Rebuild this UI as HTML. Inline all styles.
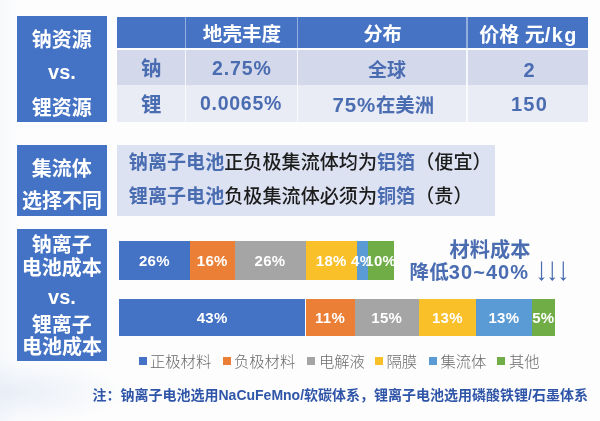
<!DOCTYPE html>
<html lang="zh-CN">
<head>
<meta charset="utf-8">
<title>钠资源 vs. 锂资源</title>
<style>
html,body{margin:0;padding:0;}
body{width:600px;height:421px;overflow:hidden;position:relative;background:#fdfdfd;
  font-family:"Liberation Sans","Noto Sans CJK SC",sans-serif;}
#bg{position:absolute;left:0;top:0;width:600px;height:421px;
  background:
    radial-gradient(ellipse 120px 34px at 8px 392px, rgba(228,235,246,0.8), rgba(228,235,246,0) 100%),
    linear-gradient(90deg, rgba(243,246,250,0.7) 0px, rgba(253,253,253,0) 18px);
}
#wrap{position:absolute;left:0;top:0;width:600px;height:421px;filter:blur(0.5px);}
.abs{position:absolute;}
.box{position:absolute;background:#4472c4;}
.t{position:absolute;white-space:nowrap;text-align:center;transform:translate(-50%,-50%);line-height:1;}
.w{color:#fff;font-weight:700;}
.b{color:#4a6cb1;font-weight:700;}
.lat{font-family:"Liberation Sans",sans-serif;}
.seg{position:absolute;top:0;height:100%;}
.pct{position:absolute;left:50%;top:50%;color:#fff;font-weight:700;font-size:15px;letter-spacing:0.3px;white-space:nowrap;transform:translate(-50%,-50%);line-height:1;}
.lg{position:absolute;width:8px;height:8px;top:357px;}
.lt{position:absolute;top:361.8px;transform:translateY(-50%);font-size:15.3px;color:#6a6a6a;white-space:nowrap;line-height:1;font-weight:300;}
</style>
</head>
<body>
<div id="bg"></div>
<div id="wrap">

<!-- left blue boxes -->
<div class="box" style="left:17px;top:16px;width:90px;height:105.7px;"></div>
<div class="box" style="left:17px;top:144.5px;width:90px;height:71.5px;"></div>
<div class="box" style="left:17px;top:229.3px;width:90px;height:131.7px;"></div>

<div class="t w" style="left:61.8px;top:39.5px;font-size:20px;">钠资源</div>
<div class="t w lat" style="left:62px;top:72px;font-size:20px;">vs.</div>
<div class="t w" style="left:61.8px;top:107.5px;font-size:20px;">锂资源</div>

<div class="t w" style="left:61.8px;top:168.5px;font-size:20px;">集流体</div>
<div class="t w" style="left:62px;top:201px;font-size:20px;">选择不同</div>

<div class="t w" style="left:61.8px;top:245px;font-size:20px;">钠离子</div>
<div class="t w" style="left:61.8px;top:268px;font-size:20px;">电池成本</div>
<div class="t w lat" style="left:62px;top:297px;font-size:20px;">vs.</div>
<div class="t w" style="left:61.8px;top:324.5px;font-size:20px;">锂离子</div>
<div class="t w" style="left:62px;top:347px;font-size:20px;">电池成本</div>

<!-- table -->
<div class="abs" style="left:117.3px;top:16.8px;width:471px;height:31px;background:#4673c3;"></div>
<div class="abs" style="left:117.3px;top:50px;width:471px;height:34.6px;background:#d3d8eb;"></div>
<div class="abs" style="left:117.3px;top:85.2px;width:471px;height:36.6px;background:#eaecf5;"></div>
<div class="abs" style="left:185.3px;top:16.8px;width:1.2px;height:31px;background:rgba(255,255,255,0.42);"></div>
<div class="abs" style="left:297.3px;top:16.8px;width:1.2px;height:31px;background:rgba(255,255,255,0.42);"></div>
<div class="abs" style="left:466.4px;top:16.8px;width:1.2px;height:31px;background:rgba(255,255,255,0.42);"></div>
<div class="abs" style="left:185.3px;top:50px;width:1.2px;height:71.8px;background:rgba(255,255,255,0.8);"></div>
<div class="abs" style="left:297.3px;top:50px;width:1.2px;height:71.8px;background:rgba(255,255,255,0.8);"></div>
<div class="abs" style="left:466.4px;top:50px;width:1.2px;height:71.8px;background:rgba(255,255,255,0.8);"></div>

<div class="t w" style="left:242px;top:35px;font-size:19.6px;">地壳丰度</div>
<div class="t w" style="left:382.6px;top:34.5px;font-size:19.2px;">分布</div>
<div class="t w" style="left:528.5px;top:35.2px;font-size:20px;">价格 元<span style="font-size:19.8px;letter-spacing:1.5px;">/kg</span></div>

<div class="t b" style="left:151.3px;top:69px;font-size:20.5px;">钠</div>
<div class="t b" style="left:241.8px;top:69px;font-size:19.5px;letter-spacing:0.9px;">2.75%</div>
<div class="t b" style="left:387px;top:69.5px;font-size:19px;">全球</div>
<div class="t b" style="left:529px;top:69.5px;font-size:20px;">2</div>

<div class="t b" style="left:151.3px;top:105px;font-size:20.5px;">锂</div>
<div class="t b" style="left:241px;top:104.2px;font-size:19.5px;letter-spacing:0.75px;">0.0065%</div>
<div class="t b" style="left:383.3px;top:105px;font-size:19.4px;"><span style="font-size:20.5px;letter-spacing:0.8px;">75%</span>在美洲</div>
<div class="t b" style="left:529.5px;top:104.3px;font-size:20px;letter-spacing:1.2px;">150</div>

<!-- collector box -->
<div class="abs" style="left:117.3px;top:144.5px;width:378px;height:71px;background:#dde2f2;"></div>
<div class="abs" id="l1" style="left:128.8px;top:163.2px;transform:translateY(-50%);white-space:nowrap;line-height:1;font-size:19.1px;color:#1c1c1c;font-weight:500;"><span class="b cn">钠离子电池</span>正负极集流体均为<span class="b cn2">铝箔</span>（便宜）</div>
<div class="abs" id="l2" style="left:128.8px;top:197.4px;transform:translateY(-50%);white-space:nowrap;line-height:1;font-size:19.1px;color:#1c1c1c;font-weight:500;"><span class="b cn">锂离子电池</span>负极集流体必须为<span class="b cn2">铜箔</span>（贵）</div>

<!-- bars -->
<div class="abs" id="bar1" style="left:0;top:240.5px;width:600px;height:39px;">
  <div class="seg" style="left:118.8px;width:71.2px;background:#4472c4;"><span class="pct">26%</span></div>
  <div class="seg" style="left:190px;width:44.5px;background:#eb7f36;"><span class="pct">16%</span></div>
  <div class="seg" style="left:234.5px;width:71px;background:#a5a5a5;"><span class="pct">26%</span></div>
  <div class="seg" style="left:305.5px;width:51.5px;background:#fac02a;"><span class="pct">18%</span></div>
  <div class="seg" style="left:357px;width:10.5px;background:#5b9bd5;"><span class="pct">4%</span></div>
  <div class="seg" style="left:367.5px;width:26.5px;background:#70ad47;"><span class="pct">10%</span></div>
</div>
<div class="abs" id="bar2" style="left:0;top:298.7px;width:600px;height:37px;">
  <div class="seg" style="left:118.8px;width:186.7px;background:#4472c4;"><span class="pct">43%</span></div>
  <div class="seg" style="left:305.5px;width:49px;background:#eb7f36;"><span class="pct">11%</span></div>
  <div class="seg" style="left:354.5px;width:64.5px;background:#a5a5a5;"><span class="pct">15%</span></div>
  <div class="seg" style="left:419px;width:56.8px;background:#fac02a;"><span class="pct">13%</span></div>
  <div class="seg" style="left:475.8px;width:56.2px;background:#5b9bd5;"><span class="pct">13%</span></div>
  <div class="seg" style="left:532px;width:22.6px;background:#70ad47;"><span class="pct">5%</span></div>
</div>

<!-- cost text -->
<div class="t b" style="left:490px;top:249.8px;font-size:20.2px;">材料成本</div>
<div class="t b" style="left:489.6px;top:271.6px;font-size:19.6px;">降低<span style="font-size:20px;letter-spacing:1.05px;">30~40%</span> <span style="font-family:NanumGothic,sans-serif;font-weight:700;font-size:19.5px;letter-spacing:1.8px;position:relative;top:-1px;margin-left:2.5px;">↓↓↓</span></div>

<!-- legend -->
<div class="lg" style="left:139.3px;background:#4472c4;"></div><div class="lt" style="left:150px;">正极材料</div>
<div class="lg" style="left:222.8px;background:#eb7f36;"></div><div class="lt" style="left:234px;">负极材料</div>
<div class="lg" style="left:307px;background:#a5a5a5;"></div><div class="lt" style="left:319px;">电解液</div>
<div class="lg" style="left:374.5px;background:#fac02a;"></div><div class="lt" style="left:386.5px;">隔膜</div>
<div class="lg" style="left:428.5px;background:#5b9bd5;"></div><div class="lt" style="left:440.5px;">集流体</div>
<div class="lg" style="left:497px;background:#70ad47;"></div><div class="lt" style="left:509px;">其他</div>

<!-- footnote -->
<div class="abs" id="note" style="left:92.5px;top:395px;transform:translateY(-50%);white-space:nowrap;line-height:1;font-size:14px;font-weight:700;color:#2f55a8;">注：钠离子电池选用NaCuFeMno/软碳体系，锂离子电池选用磷酸铁锂/石墨体系</div>

</div>
</body>
</html>
